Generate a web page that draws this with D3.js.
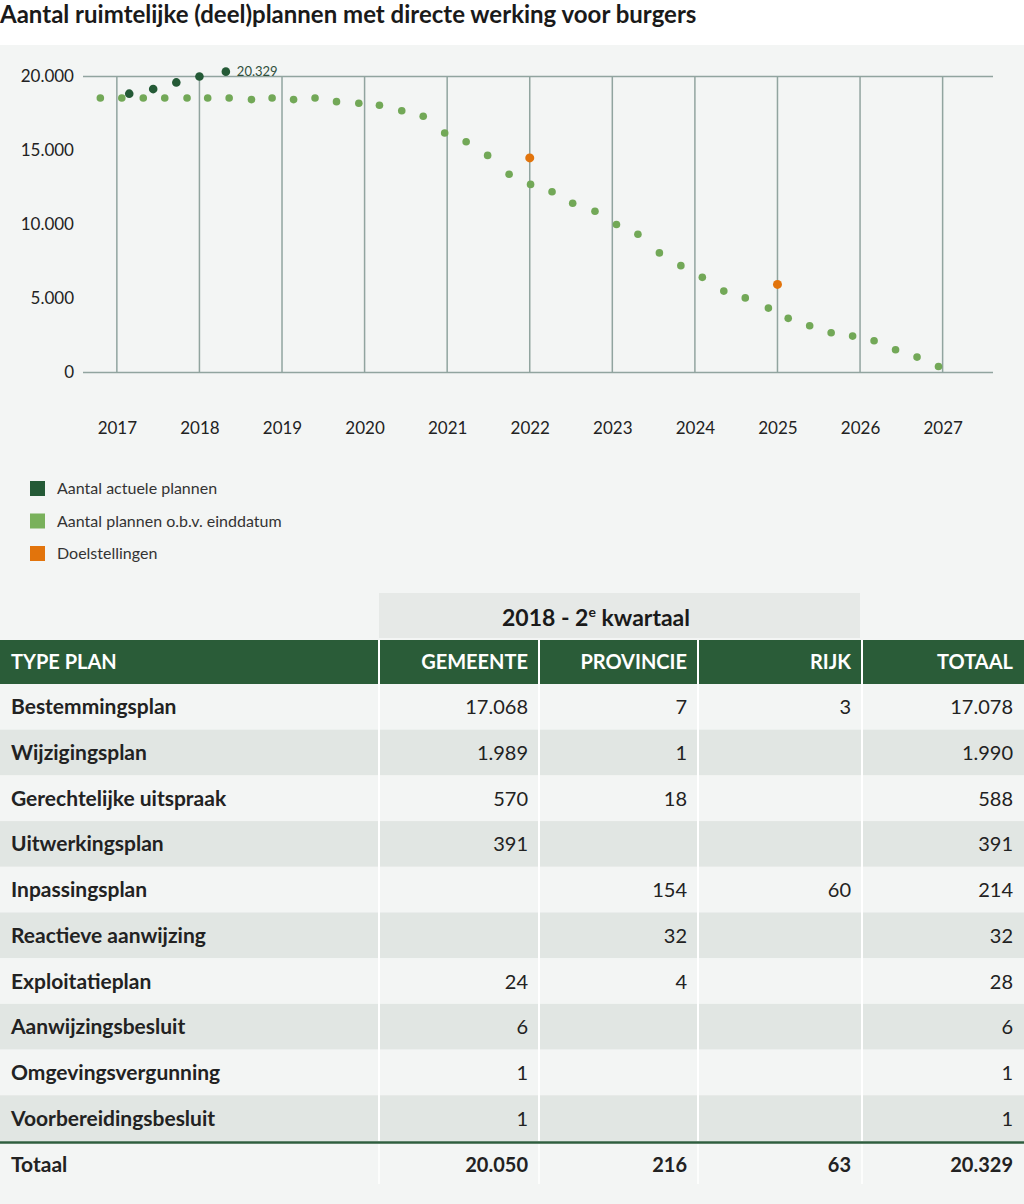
<!DOCTYPE html>
<html>
<head>
<meta charset="utf-8">
<script src="https://cdn.jsdelivr.net/npm/d3@7"></script>
<style>
  html, body { margin: 0; padding: 0; background: #fff; }
  svg { display: block; font-family: Lato, "Noto Sans", sans-serif; }
</style>
</head>
<body>
<svg></svg>
<script>
// ---- data ----
var endYears = [2016.80, 2017.06, 2017.32, 2017.58, 2017.85, 2018.10, 2018.36, 2018.63, 2018.88, 2019.14,
                2019.40, 2019.66, 2019.93, 2020.18, 2020.45, 2020.71, 2020.97, 2021.23, 2021.49, 2021.75,
                2022.01, 2022.27, 2022.52, 2022.79, 2023.05, 2023.31, 2023.57, 2023.83, 2024.09, 2024.35,
                2024.61, 2024.89, 2025.13, 2025.39, 2025.65, 2025.91, 2026.17, 2026.43, 2026.69, 2026.95];
var endValues = [18550, 18550, 18550, 18550, 18550, 18550, 18550, 18440, 18550, 18440,
                 18550, 18300, 18190, 18060, 17690, 17310, 16180, 15590, 14670, 13400,
                 12710, 12210, 11440, 10900, 10000, 9340, 8080, 7220, 6430, 5500,
                 5040, 4350, 3660, 3160, 2690, 2460, 2150, 1540, 1040, 410];
var actualYears = [2017.15, 2017.44, 2017.72, 2018.00, 2018.32];
var actualValues = [18840, 19150, 19600, 20000, 20329];
var goalYears = [2022, 2025];
var goalValues = [14500, 5950];
var yearTicks = [2017, 2018, 2019, 2020, 2021, 2022, 2023, 2024, 2025, 2026, 2027];
var valueTicks = [0, 5000, 10000, 15000, 20000];

var legendLabels = ["Aantal actuele plannen", "Aantal plannen o.b.v. einddatum", "Doelstellingen"];

var planTypes = ["Bestemmingsplan", "Wijzigingsplan", "Gerechtelijke uitspraak", "Uitwerkingsplan",
                 "Inpassingsplan", "Reactieve aanwijzing", "Exploitatieplan", "Aanwijzingsbesluit",
                 "Omgevingsvergunning", "Voorbereidingsbesluit"];
var gemeente  = [17068, 1989, 570, 391, null, null, 24, 6, 1, 1];
var provincie = [7, 1, 18, null, 154, 32, 4, null, null, null];
var rijk      = [3, null, null, null, 60, null, null, null, null, null];
var totaal    = [17078, 1990, 588, 391, 214, 32, 28, 6, 1, 1];
var columnHeaders = ["TYPE PLAN", "GEMEENTE", "PROVINCIE", "RIJK", "TOTAAL"];
var totals = [20050, 216, 63, 20329];

// ---- setup ----
var width = 1024, height = 1204;
var nl = d3.formatLocale({decimal: ",", thousands: ".", grouping: [3], currency: ["€", ""]});
var fmt = nl.format(",d");

var colors = {
  actual: "#245a36",
  end: "#72a857",
  endLegend: "#79b15b",
  goal: "#e2740c",
  grid: "#91a49f",
  bg: "#f3f5f4",
  rowAlt: "#e1e6e3",
  header: "#2a5c38",
  text: "#222"
};

var svg = d3.select("svg")
    .attr("width", width)
    .attr("height", height);

svg.append("rect")
    .attr("x", 0).attr("y", 45)
    .attr("width", width).attr("height", height - 45)
    .attr("fill", colors.bg);

svg.append("text")
    .attr("x", 0)
    .attr("y", 23)
    .attr("font-size", 24)
    .attr("font-weight", 700)
    .attr("fill", "#1a1a1a")
    .text("Aantal ruimtelijke (deel)plannen met directe werking voor burgers");

// ---- chart ----
var x = d3.scaleLinear().domain([2016.59, 2027.61]).range([83, 993]);
var y = d3.scaleLinear().domain([0, 20000]).range([372.5, 76.5]);

var chart = svg.append("g").classed("chart", true);

chart.selectAll(".vgrid")
  .data(yearTicks)
  .enter()
  .append("line")
    .classed("vgrid", true)
    .attr("x1", d => x(d)).attr("x2", d => x(d))
    .attr("y1", y(20000)).attr("y2", y(0))
    .attr("stroke", colors.grid)
    .attr("stroke-width", 1.5);

chart.selectAll(".hgrid")
  .data([0, 20000])
  .enter()
  .append("line")
    .classed("hgrid", true)
    .attr("x1", x.range()[0]).attr("x2", x.range()[1])
    .attr("y1", d => y(d)).attr("y2", d => y(d))
    .attr("stroke", colors.grid)
    .attr("stroke-width", 1.5);

var yAxis = chart.append("g")
    .attr("transform", `translate(${x.range()[0]},0)`)
    .call(d3.axisLeft(y).tickValues(valueTicks).tickFormat(fmt).tickSize(0).tickPadding(9));
yAxis.select(".domain").remove();
yAxis.selectAll("text")
    .attr("font-size", 17)
    .attr("font-family", "Lato, 'Noto Sans', sans-serif")
    .attr("fill", colors.text);

var xAxis = chart.append("g")
    .attr("transform", `translate(0,${y(0)})`)
    .call(d3.axisBottom(x).tickValues(yearTicks).tickFormat(d3.format("d")).tickSize(0).tickPadding(49));
xAxis.select(".domain").remove();
xAxis.selectAll("text")
    .attr("font-size", 17)
    .attr("font-family", "Lato, 'Noto Sans', sans-serif")
    .attr("fill", colors.text);

chart.selectAll(".end-dot")
  .data(d3.zip(endYears, endValues))
  .enter()
  .append("circle")
    .classed("end-dot", true)
    .attr("cx", d => x(d[0]))
    .attr("cy", d => y(d[1]))
    .attr("r", 3.8)
    .attr("fill", colors.end);

chart.selectAll(".goal-dot")
  .data(d3.zip(goalYears, goalValues))
  .enter()
  .append("circle")
    .classed("goal-dot", true)
    .attr("cx", d => x(d[0]))
    .attr("cy", d => y(d[1]))
    .attr("r", 4.5)
    .attr("fill", colors.goal);

chart.selectAll(".actual-dot")
  .data(d3.zip(actualYears, actualValues))
  .enter()
  .append("circle")
    .classed("actual-dot", true)
    .attr("cx", d => x(d[0]))
    .attr("cy", d => y(d[1]))
    .attr("r", 4.3)
    .attr("fill", colors.actual);

var lastIdx = actualValues.length - 1;
chart.append("text")
    .attr("x", x(actualYears[lastIdx]) + 11)
    .attr("y", y(actualValues[lastIdx]) + 4.5)
    .attr("font-size", 13)
    .attr("fill", "#2f4f3c")
    .text(fmt(actualValues[lastIdx]));

// ---- legend ----
var legendColors = [colors.actual, colors.endLegend, colors.goal];
var legend = svg.append("g")
  .selectAll("g")
  .data(legendLabels)
  .enter()
  .append("g")
    .attr("transform", (d, i) => `translate(30, ${481 + i * 32.5})`);

legend.append("rect")
    .attr("width", 15).attr("height", 15)
    .attr("fill", (d, i) => legendColors[i]);

legend.append("text")
    .attr("x", 27)
    .attr("y", 13)
    .attr("font-size", 16)
    .attr("fill", "#333")
    .text(d => d);

// ---- table ----
var colEdges = [0, 379, 539, 698, 862, 1024];
var rowBand = d3.scaleBand().domain(planTypes).range([684, 1141]);
var rows = planTypes.map((p, i) => [p, gemeente[i], provincie[i], rijk[i], totaal[i]]);

var table = svg.append("g").classed("table", true);

// period header
table.append("rect")
    .attr("x", colEdges[1]).attr("y", 593)
    .attr("width", colEdges[4] - colEdges[1] - 2).attr("height", 45)
    .attr("fill", "#e6e9e7");
var period = table.append("text")
    .attr("x", 596)
    .attr("y", 626)
    .attr("text-anchor", "middle")
    .attr("font-size", 23)
    .attr("font-weight", 700)
    .attr("fill", "#1a1a1a");
period.append("tspan").text("2018 - 2");
period.append("tspan").attr("font-size", 14).attr("dy", -9).text("e");
period.append("tspan").attr("dy", 9).text(" kwartaal");

// column header row
table.append("rect")
    .attr("x", 0).attr("y", 640)
    .attr("width", width).attr("height", 44)
    .attr("fill", colors.header);

table.selectAll(".colhead")
  .data(columnHeaders)
  .enter()
  .append("text")
    .classed("colhead", true)
    .attr("x", (d, i) => i === 0 ? 11 : colEdges[i + 1] - 11)
    .attr("y", 669)
    .attr("text-anchor", (d, i) => i === 0 ? "start" : "end")
    .attr("font-size", 20)
    .attr("font-weight", 700)
    .attr("fill", "#fff")
    .text(d => d);

// body rows
var rowG = table.selectAll(".row")
  .data(rows)
  .enter()
  .append("g")
    .classed("row", true)
    .attr("transform", d => `translate(0, ${rowBand(d[0])})`);

rowG.append("rect")
    .attr("width", width)
    .attr("height", rowBand.bandwidth())
    .attr("fill", (d, i) => i % 2 ? colors.rowAlt : colors.bg);

rowG.selectAll("text")
  .data(d => d)
  .enter()
  .append("text")
    .attr("x", (d, i) => i === 0 ? 11 : colEdges[i + 1] - 11)
    .attr("y", rowBand.bandwidth() / 2 + 7.5)
    .attr("text-anchor", "end")
    .attr("text-anchor", (d, i) => i === 0 ? "start" : "end")
    .attr("font-size", (d, i) => i === 0 ? 21 : 20)
    .attr("font-weight", (d, i) => i === 0 ? 700 : 400)
    .attr("fill", colors.text)
    .text(d => d == null ? "" : (typeof d === "number" ? fmt(d) : d));

// total row
var totalTop = rowBand.range()[1] + 3;
table.append("line")
    .attr("x1", 0).attr("x2", width)
    .attr("y1", totalTop - 1.5).attr("y2", totalTop - 1.5)
    .attr("stroke", "#2f5e3f")
    .attr("stroke-width", 2.5);

var totalRow = ["Totaal"].concat(totals);
table.selectAll(".total")
  .data(totalRow)
  .enter()
  .append("text")
    .classed("total", true)
    .attr("x", (d, i) => i === 0 ? 11 : colEdges[i + 1] - 11)
    .attr("y", totalTop + 28)
    .attr("text-anchor", (d, i) => i === 0 ? "start" : "end")
    .attr("font-size", (d, i) => i === 0 ? 21 : 20)
    .attr("font-weight", 700)
    .attr("fill", colors.text)
    .text(d => typeof d === "number" ? fmt(d) : d);

// column separators
table.selectAll(".sep")
  .data(colEdges.slice(1, 5))
  .enter()
  .append("line")
    .classed("sep", true)
    .attr("x1", d => d).attr("x2", d => d)
    .attr("y1", 640).attr("y2", totalTop - 3)
    .attr("stroke", "#fff")
    .attr("stroke-width", 2);

table.selectAll(".sep-total")
  .data(colEdges.slice(1, 5))
  .enter()
  .append("line")
    .classed("sep-total", true)
    .attr("x1", d => d).attr("x2", d => d)
    .attr("y1", totalTop).attr("y2", totalTop + 40)
    .attr("stroke", "#fff")
    .attr("stroke-width", 1.5);
</script>
</body>
</html>
